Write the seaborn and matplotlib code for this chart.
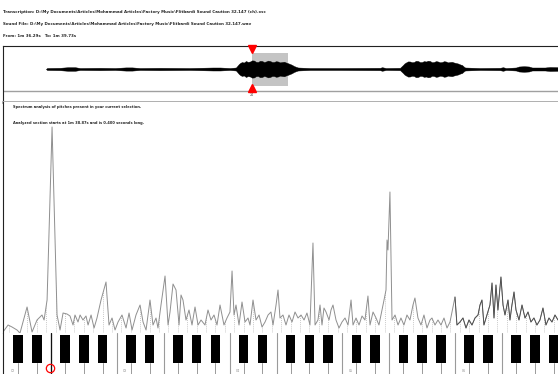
import numpy as np
import pandas as pd
import seaborn as sns
import matplotlib.pyplot as plt
from matplotlib.patches import Rectangle

# header lines
title_lines = [
    r"Transcription: D:\My Documents\Articles\Mohammad Articles\Factory Music\Flitbardi Sound Caution 32.147 (ch).xsc",
    r"Sound File: D:\My Documents\Articles\Mohammad Articles\Factory Music\Flitbardi Sound Caution 32.147.wav",
    "From: 1m 36.29s   To: 1m 39.73s",
]
spec_lines = [
    "Spectrum analysis of pitches present in your current selection.",
    "Analyzed section starts at 1m 38.87s and is 0.400 seconds long.",
]

# waveform envelope (seconds, amplitude)
wave_time = [23.2, 23.8, 30.8, 35.1, 38.9, 41.6, 52.4, 60.5, 66.4, 69.7, 74.0, 84.8,
             101.0, 113.4, 117.2, 122.6, 125.8,
             127.4, 128.2, 129.1, 130.0, 131.2, 132.2, 133.4, 134.4, 135.5, 136.6, 137.7,
             138.8, 139.9, 141.0, 142.0, 143.1, 144.2, 145.3, 146.3, 147.4, 148.5, 149.6,
             150.7, 151.8, 152.8, 153.9, 155.0, 156.0, 157.1, 158.2, 159.3,
             165.8, 182.0, 203.6, 204.7, 206.8, 214.4,
             216.0, 216.8, 217.6, 218.7, 219.8, 220.8, 221.9, 223.0, 224.1, 225.2, 226.3,
             227.3, 228.4, 229.5, 230.6, 231.6, 232.7, 233.8, 234.9, 236.0, 237.1, 238.1,
             239.2, 240.3, 241.4, 242.4, 243.5, 244.6, 245.7, 246.8, 247.9, 248.7, 249.5,
             257.6, 268.4, 270.0, 271.6, 277.0, 278.6,
             281.3, 284.0, 285.7, 292.7, 295.4, 299.7]
wave_amp = [0.0, 1.0, 1.2, 1.8, 1.8, 1.0, 1.2, 1.0, 1.6, 1.6, 1.0, 1.2,
            1.0, 1.5, 1.5, 1.0, 1.5,
            5.0, 6.2, 7.0, 6.4, 8.0, 7.1, 7.5, 8.6, 8.5, 7.2, 7.0,
            8.2, 8.0, 6.9, 7.5, 8.4, 8.0, 7.0, 7.0, 7.8, 7.5, 6.6,
            7.0, 7.3, 6.5, 5.8, 5.0, 4.2, 3.0, 2.2, 1.5,
            1.0, 1.0, 1.2, 1.8, 1.0, 1.2,
            4.0, 5.6, 6.5, 7.6, 7.5, 6.8, 7.0, 8.2, 8.0, 6.9, 7.0,
            7.9, 7.5, 8.3, 8.0, 6.8, 7.0, 7.9, 7.5, 6.7, 7.0, 7.8,
            7.5, 6.6, 7.0, 7.2, 6.5, 6.0, 5.5, 4.6, 4.0, 2.6, 1.5,
            1.0, 1.2, 1.8, 1.0, 1.5, 2.5,
            2.8, 2.5, 1.5, 1.5, 2.0, 1.8]
sel_start, sel_end = 134.5, 153.9
sel_label = "24"

# spectrum: semitones above C2, level
pitch = [-0.60, -0.06, 0.36, 0.89, 1.21, 1.96, 2.49, 3.02, 3.55, 3.77, 4.09, 4.62, 5.15, 5.47,
         5.79, 6.21, 6.53, 6.85, 7.06, 7.38, 7.60, 7.91, 8.23, 8.45, 8.77, 9.09, 9.40, 9.83,
         10.36, 10.68, 11.00, 11.32, 11.64, 12.06, 12.49, 12.81, 13.13, 13.55, 13.98, 14.30,
         14.62, 15.04, 15.36, 15.68, 15.89, 16.21, 16.64, 16.96, 17.17, 17.49, 17.81, 18.13,
         18.34, 18.55, 18.87, 19.19, 19.51, 19.83, 20.15, 20.47, 20.89, 21.21, 21.53, 21.85,
         22.17, 22.49, 22.91, 23.23, 23.55, 23.77, 23.98, 24.19, 24.51, 24.83, 25.15, 25.47,
         25.68, 26.00, 26.32, 26.64, 26.96, 27.28, 27.60, 27.91, 28.13, 28.45, 28.66, 28.87,
         29.19, 29.51, 29.83, 30.15, 30.47, 30.79, 31.11, 31.43, 31.74, 32.06, 32.38, 32.60,
         32.91, 33.13, 33.34, 33.55, 33.77, 34.09, 34.30, 34.51, 34.83, 35.15, 35.47, 35.79,
         36.11, 36.43, 36.64, 36.96, 37.28, 37.60, 37.91, 38.23, 38.45, 38.77, 39.09, 39.40,
         39.62, 39.94, 40.15, 40.26, 40.36, 40.57, 40.79, 41.11, 41.43, 41.74, 42.06, 42.38,
         42.70, 43.02, 43.23, 43.55, 43.87, 44.19, 44.51, 44.83, 45.04, 45.36, 45.68, 46.00,
         46.32, 46.64, 46.96, 47.49, 47.70, 48.02, 48.34, 48.66, 48.98, 49.30, 49.62, 49.94,
         50.15, 50.36, 50.57, 50.89, 51.21, 51.43, 51.64, 51.85, 52.06, 52.38, 52.60, 52.81,
         53.13, 53.34, 53.55, 53.77, 53.98, 54.30, 54.62, 54.94, 55.26, 55.57, 55.89, 56.21,
         56.53, 56.85, 57.17, 57.49, 57.81, 58.13, 58.45]
level = [1, 8, 6, 3, 0, 26, 1, 13, 18, 13, 33, 206, 18, 3,
         20, 19, 17, 8, 18, 11, 18, 13, 17, 8, 18, 5, 15, 33,
         51, 8, 15, 3, 11, 18, 5, 20, 3, 18, 28, 11,
         3, 33, 8, 15, 5, 28, 57, 8, 21, 49, 43, 8,
         38, 33, 13, 23, 8, 26, 8, 13, 8, 23, 13, 18,
         8, 28, 8, 15, 21, 62, 18, 28, 8, 31, 11, 15,
         8, 33, 13, 18, 6, 11, 18, 21, 8, 28, 43, 15,
         18, 8, 18, 11, 21, 15, 18, 13, 20, 8, 90, 8,
         13, 28, 8, 25, 21, 13, 23, 28, 13, 5, 11, 15,
         8, 33, 8, 15, 8, 17, 13, 37, 8, 21, 15, 8,
         18, 33, 43, 93, 83, 141, 13, 18, 8, 15, 8, 18,
         13, 28, 35, 15, 8, 18, 5, 13, 15, 8, 13, 8,
         15, 5, 11, 36, 8, 11, 15, 5, 13, 8, 15, 18,
         28, 33, 8, 18, 28, 50, 15, 48, 23, 56, 28, 18,
         33, 13, 28, 41, 23, 13, 28, 15, 21, 11, 15, 8,
         13, 25, 8, 15, 11, 18, 13]

octave_names = ["C2", "C3", "C4", "C5", "C6"]
black_in_octave = [1, 3, 6, 8, 10]
played_note = 4.4

sns.set_style("white")
plt.rcParams['font.family'] = ['DejaVu Sans']

W, H = 558, 374
fig = plt.figure(figsize=(W / 100, H / 100), dpi=100)


def box(top, bottom):
    return [3 / W, 1 - bottom / H, (W - 3) / W, (bottom - top) / H]


# header text
for i, t in enumerate(title_lines):
    fig.text(3 / W, 1 - (12 + 12 * i) / H, t, fontsize=2.9, fontweight='bold', va='center')

# ---- waveform panel
ax_w = fig.add_axes(box(46, 102))
ax_w.set_xlim(0, 299.7)
ax_w.set_ylim(-33, 23)
ax_w.add_patch(Rectangle((sel_start, -17), sel_end - sel_start, 33, color='#c4c4c4', lw=0, zorder=1))
ax_w.fill_between(wave_time, [-a for a in wave_amp], wave_amp, color='black', lw=0.3, zorder=2)
ax_w.axhline(-22, color='#a0a0a0', lw=1.0)
ax_w.plot([sel_start], [20], marker='v', color='red', ms=6, clip_on=False, zorder=5)
ax_w.plot([sel_start], [-19], marker='^', color='red', ms=6, clip_on=False, zorder=5)
ax_w.text(sel_start, -26, sel_label, fontsize=2.3, color='#555555', ha='center', va='center')
ax_w.spines['right'].set_visible(False)
ax_w.spines['top'].set_color('#222222')
ax_w.spines['left'].set_color('#222222')
ax_w.spines['bottom'].set_color('#a8a8a8')
ax_w.spines['bottom'].set_linewidth(2)
ax_w.set_xticks([])
ax_w.set_yticks([])

# ---- spectrum panel
df = pd.DataFrame({"pitch": pitch, "level": level})
ax_s = fig.add_axes(box(102, 333))
ax_s.set_xlim(-0.6, 58.45)
ax_s.set_ylim(0, 231)
poly = ax_s.fill_between(df["pitch"], 0, df["level"], color='none', lw=0)
vl = ax_s.vlines(np.arange(0, 59), 0, 231, colors='#b5b5b5', linestyles=(0, (1, 1.5)), lw=0.6)
vl.set_clip_path(poly.get_paths()[0], transform=ax_s.transData)
sns.lineplot(data=df, x="pitch", y="level", ax=ax_s, color='#8f8f8f', lw=0.7,
             estimator=None, sort=False)
sns.lineplot(data=df[df["pitch"] >= 47], x="pitch", y="level", ax=ax_s, color='#4a4a4a',
             lw=0.6, estimator=None, sort=False)
for i, t in enumerate(spec_lines):
    fig.text(13 / W, 1 - (107 + 16 * i) / H, t, fontsize=2.6, fontweight='bold', va='center')
for s in ['top', 'right', 'bottom']:
    ax_s.spines[s].set_visible(False)
ax_s.spines['left'].set_color('#222222')
ax_s.set_xlabel('')
ax_s.set_ylabel('')
ax_s.set_xticks([])
ax_s.set_yticks([])

# ---- keyboard
ax_k = fig.add_axes(box(333, 374))
ax_k.set_xlim(-0.6, 58.45)
ax_k.set_ylim(0, 41)
for k, name in enumerate(octave_names):
    base = 12 * k
    for b in black_in_octave:
        n = base + b
        ax_k.add_patch(Rectangle((n - 0.5, 11), 1.0, 28, color='black', lw=0))
        ax_k.plot([n, n], [0, 11], color='#9a9a9a', lw=0.7)
    for edge in (base + 4.5, base + 11.5):
        ax_k.plot([edge, edge], [0, 41], color='#9a9a9a', lw=0.8)
    ax_k.text(base + 0.2, 3.5, name, fontsize=2.3, color='#888888', ha='left', va='center')
ax_k.plot([4.5, 4.5], [0, 41], color='#111111', lw=0.9)
ax_k.plot([played_note], [6], marker='o', mfc='none', mec='red', mew=0.9, ms=6, clip_on=False)
for s in ['top', 'right', 'bottom']:
    ax_k.spines[s].set_visible(False)
ax_k.spines['left'].set_color('#222222')
ax_k.set_xticks([])
ax_k.set_yticks([])

fig.savefig("out.png", dpi=100)
